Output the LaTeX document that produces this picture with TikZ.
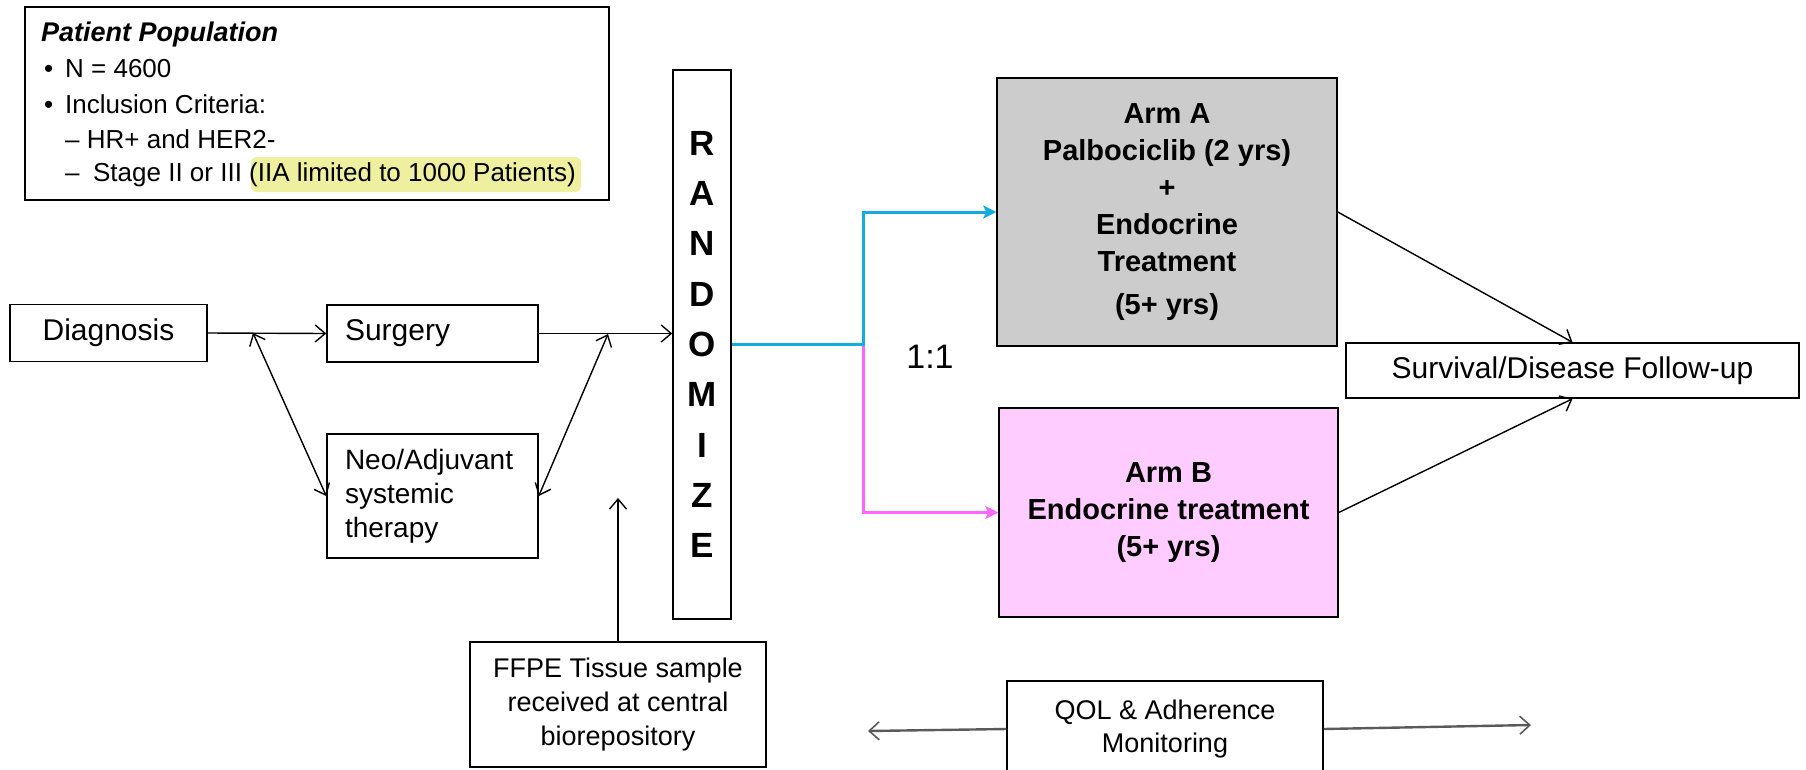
\documentclass[tikz,border=0pt]{standalone}
\usepackage{fontspec}
\setmainfont{Liberation Sans}
\usetikzlibrary{arrows.meta}
\definecolor{armAgray}{RGB}{204,204,204}
\definecolor{armBpink}{RGB}{255,204,255}
\definecolor{cyanline}{RGB}{20,172,222}
\definecolor{pinkline}{RGB}{255,102,255}
\definecolor{hilite}{RGB}{238,240,160}
\definecolor{qolgray}{RGB}{90,90,90}
\begin{document}
\begin{tikzpicture}[x=1pt,y=-1pt,
  box/.style={draw=black, line width=1.5pt, inner sep=0pt},
  ptxt/.style={inner sep=0pt, anchor=base west, font=\fontsize{26}{31}\selectfont},
  arr/.style={line width=1.4pt, -{Straight Barb[length=10pt,width=17pt]}},
  dbl/.style={line width=1.4pt, {Straight Barb[length=10pt,width=17pt]}-{Straight Barb[length=10pt,width=17pt]}},
  cyanarr/.style={draw=cyanline, line width=3pt, -{Stealth[length=13pt,width=13pt,inset=3pt]}},
  pinkarr/.style={draw=pinkline, line width=3pt, -{Stealth[length=13pt,width=13pt,inset=3pt]}},
  qarr/.style={draw=qolgray, line width=2.4pt, -{Straight Barb[length=10pt,width=18pt,line width=1.6pt]}},
  leftbox/.style={box, text width=175pt, inner xsep=18pt, align=left, font=\fontsize{30}{35}\selectfont},
  armtxt/.style={font=\fontsize{29}{37}\selectfont\bfseries, align=center}
]
\useasboundingbox (0,0) rectangle (1806,769);

% Patient population box
\node[box, minimum width=584pt, minimum height=193pt] (pat) at (317,103.5) {};
\node[fill=hilite, rounded corners=6pt, inner sep=0pt, minimum width=330pt, minimum height=35pt] (hl) at (416,174.5) {};
\node[ptxt, font=\fontsize{27}{31}\selectfont\bfseries\itshape] (pp) at (41,41) {Patient Population};
\node[ptxt] (b1) at (44,77) {•};
\node[ptxt] (l1) at (65,77) {N = 4600};
\node[ptxt] (b2) at (44,113) {•};
\node[ptxt] (l2) at (65,113) {Inclusion Criteria:};
\node[ptxt] (l3) at (65,148) {– HR+ and HER2-};
\node[ptxt] (l4) at (65,181) {–\hspace{13.5pt}Stage II or III (IIA limited to 1000 Patients)};

% Left flow
\node[box, minimum width=197pt, minimum height=57pt, font=\fontsize{30}{35}\selectfont] (diag) at (108.5,333) {Diagnosis};
\node[leftbox, minimum height=57pt] (surg) at (432.5,333.5) {Surgery};
\node[leftbox, minimum height=124pt, font=\fontsize{28}{34}\selectfont] (neo) at (432.5,496) {Neo/Adjuvant\\systemic\\therapy};

% Randomize
\node[box, minimum width=58pt, minimum height=549pt, align=center, font=\fontsize{35}{50.3}\selectfont\bfseries] (rand) at (702,344.5) {R\\A\\N\\D\\O\\M\\I\\Z\\E};

% Arms
\node[box, fill=armAgray, minimum width=340pt, minimum height=268pt, armtxt] (armA) at (1167,212) {Arm A\\Palbociclib (2 yrs)\\+\\Endocrine\\Treatment\\[6pt](5+ yrs)};
\node[box, fill=armBpink, minimum width=339pt, minimum height=209pt, armtxt] (armB) at (1168.5,512.5) {Arm B\\Endocrine treatment\\(5+ yrs)};

\node[font=\fontsize{34}{40}\selectfont, inner sep=0pt] (ratio) at (930,357) {1:1};

\node[box, minimum width=453pt, minimum height=55pt, font=\fontsize{30}{35}\selectfont] (surv) at (1572.5,370.5) {Survival/Disease Follow-up};

% Bottom boxes
\node[box, minimum width=296pt, minimum height=125pt, align=center, font=\fontsize{27}{34}\selectfont] (ffpe) at (618,704.5) {FFPE Tissue sample\\received at central\\biorepository};
\node[box, minimum width=316pt, minimum height=96pt, align=center, font=\fontsize{27}{33}\selectfont] (qol) at (1165,729) {QOL \& Adherence\\Monitoring};

% Connectors
\draw[arr] (diag.east) -- (surg.west);
\coordinate (j1) at (253,333);
\draw[dbl] (j1) -- (neo.west);
\draw[arr] (surg.east) -- (surg.east -| rand.west);
\coordinate (j2) at (608,334);
\draw[dbl] (j2) -- (neo.east);
\coordinate (ftip) at (618,498);
\draw[arr] (ffpe.north) -- (ftip);

\coordinate (split) at (863,344.5);
\draw[pinkarr] (split) |- (armB.west);
\draw[cyanarr] (rand.east) -- (split) |- (armA.west);

\draw[arr] (armA.east) -- (surv.north);
\draw[arr] (armB.east) -- (surv.south);

\coordinate (qL) at (868,731);
\coordinate (qR) at (1531,725);
\draw[qarr] (qol.west) -- (qL);
\draw[qarr] (qol.east) -- (qR);
\end{tikzpicture}
\end{document}
